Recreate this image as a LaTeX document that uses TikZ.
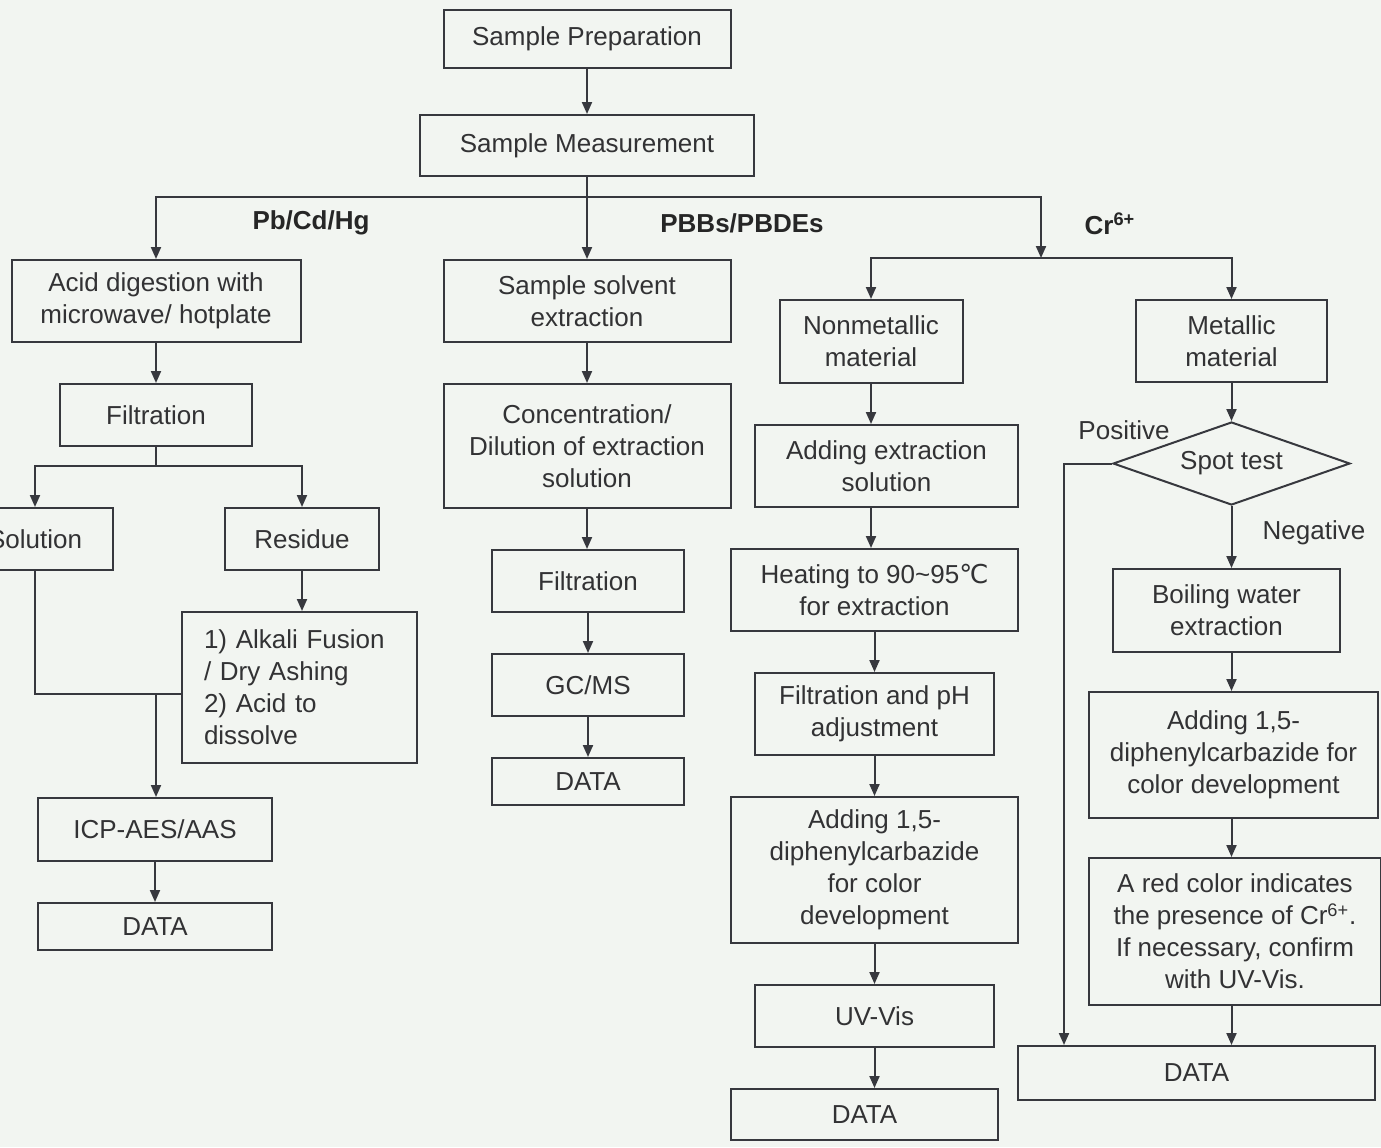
\documentclass[tikz,border=0pt]{standalone}
\usepackage{fontspec}
\setmainfont{Liberation Sans}
\newfontfamily\symfont{DejaVu Sans}
\usetikzlibrary{arrows.meta,shapes.geometric}

\definecolor{bgc}{RGB}{242,245,241}
\definecolor{linec}{RGB}{55,56,62}
\definecolor{textc}{RGB}{50,50,52}

\begin{document}
\begin{tikzpicture}[
x=0.5pt, y=-0.5pt,
font=\fontsize{13}{16}\selectfont,
>={Triangle[length=6pt,width=5pt]}
]

\tikzstyle{bx} = [draw=linec, line width=1pt, shape=rectangle, align=center, inner sep=0pt, text=textc]
\tikzstyle{dm} = [draw=linec, line width=1pt, shape=diamond, aspect=2.85, inner sep=0pt, text=textc]
\tikzstyle{lbl} = [text=textc, inner sep=0pt]
\tikzstyle{hd} = [text=black!85, inner sep=0pt, font=\fontsize{13}{16}\selectfont\bfseries]
\tikzstyle{ln} = [draw=linec, line width=1pt]

\fill[bgc] (0,0) rectangle (1381,1147);
\useasboundingbox (0,0) rectangle (1381,1147);

\node[bx, minimum width=143.5pt, minimum height=29pt] (prep) at (587,39) {Sample Preparation};
\node[bx, minimum width=167pt, minimum height=30.5pt] (meas) at (587,145.5) {Sample Measurement};

\node[hd] (pbh) at (311,223) {Pb/Cd/Hg};
\node[hd] (bfr) at (742,223) {PBBs/PBDEs};
\node[hd] (crh) at (1110,224) {Cr\textsuperscript{6+}};

\node[bx, minimum width=144.5pt, minimum height=41pt] (acid) at (156,301) {Acid digestion with\\microwave/ hotplate};
\node[bx, minimum width=96pt, minimum height=31pt] (filtL) at (156,415) {Filtration};
\node[bx, minimum width=78pt, minimum height=31pt] (sol) at (35,539) {Solution};
\node[bx, minimum width=77pt, minimum height=31pt] (res) at (302,539) {Residue};
\node[bx, minimum width=117.5pt, minimum height=75.5pt, text width=95pt, align=left] (alk) at (299,687.5) {1) Alkali Fusion\\/ Dry Ashing\\2) Acid to\\dissolve};
\node[bx, minimum width=117pt, minimum height=31.5pt] (icp) at (155,829.5) {ICP-AES/AAS};
\node[bx, minimum width=117pt, minimum height=23.5pt] (dataL) at (155,926.5) {DATA};

\node[bx, minimum width=143.5pt, minimum height=41pt] (solv) at (587,301) {Sample solvent\\extraction};
\node[bx, minimum width=143.5pt, minimum height=62pt] (conc) at (587,446) {Concentration/\\Dilution of extraction\\solution};
\node[bx, minimum width=96pt, minimum height=31pt] (filtM) at (588,581) {Filtration};
\node[bx, minimum width=96pt, minimum height=31pt] (gcms) at (588,685) {GC/MS};
\node[bx, minimum width=96pt, minimum height=23.5pt] (dataM) at (588,781.5) {DATA};

\node[bx, minimum width=91.5pt, minimum height=41.5pt] (nonm) at (871,341.5) {Nonmetallic\\material};
\node[bx, minimum width=131.5pt, minimum height=41pt] (addx) at (886.5,466) {Adding extraction\\solution};
\node[bx, minimum width=143.5pt, minimum height=41pt] (heat) at (874.5,590) {Heating to 90\textasciitilde95{\symfont ℃}\\for extraction};
\node[bx, minimum width=119.5pt, minimum height=41pt] (fph) at (874.5,714) {Filtration and pH\\adjustment};
\node[bx, minimum width=143.5pt, minimum height=73pt] (addn) at (874.5,870) {Adding 1,5-\\diphenylcarbazide\\for color\\development};
\node[bx, minimum width=119.5pt, minimum height=31pt] (uv) at (874.5,1016) {UV-Vis};
\node[bx, minimum width=133.5pt, minimum height=25.5pt] (dataN) at (864.5,1114.5) {DATA};

\node[bx, minimum width=95.5pt, minimum height=41pt] (metal) at (1231.5,341) {Metallic\\material};
\node[dm, minimum width=118.5pt, minimum height=41.5pt] (spot) at (1231.5,463.5) {Spot test};
\node[lbl] (posl) at (1124,430) {Positive};
\node[lbl] (negl) at (1314,533) {Negative};
\node[bx, minimum width=113.5pt, minimum height=41.5pt] (boil) at (1226.5,610.5) {Boiling water\\extraction};
\node[bx, minimum width=144.5pt, minimum height=63pt] (addm) at (1233.5,755) {Adding 1,5-\\diphenylcarbazide for\\color development};
\node[bx, minimum width=146pt, minimum height=73.5pt] (red) at (1235,931.5) {A red color indicates\\the presence of Cr\textsuperscript{6+}.\\If necessary, confirm\\with UV-Vis.};
\node[bx, minimum width=178.5pt, minimum height=27pt] (dataR) at (1196.5,1073) {DATA};

\coordinate (br) at (587,197);
\coordinate (crj) at (1041,258);
\coordinate (fj) at (156,466);
\coordinate (sj) at (156,694);
\coordinate (pos) at (1064,463.5);

\draw[ln,->] (prep) -- (meas);
\draw[ln,->] (meas.south) -- (br) -| (acid.north);
\draw[ln,->] (br) -- (solv.north);
\draw[ln,->] (br) -| (crj);

\draw[ln,->] (acid) -- (filtL);
\draw[ln] (filtL.south) -- (fj);
\draw[ln,->] (fj) -| (sol.north);
\draw[ln,->] (fj) -| (res.north);
\draw[ln,->] (res) -- (res.south |- alk.north);
\draw[ln] (sol.south) |- (alk.west |- sj);
\draw[ln,->] (sj) -- (sj |- icp.north);
\draw[ln,->] (icp) -- (dataL);

\draw[ln,->] (solv) -- (conc);
\draw[ln,->] (conc) -- (conc.south |- filtM.north);
\draw[ln,->] (filtM) -- (gcms);
\draw[ln,->] (gcms) -- (dataM);

\draw[ln,->] (crj) -| (nonm.north);
\draw[ln,->] (crj) -| (metal.north);
\draw[ln,->] (nonm) -- (nonm.south |- addx.north);
\draw[ln,->] (nonm.south |- addx.south) -- (nonm.south |- heat.north);
\draw[ln,->] (heat) -- (fph);
\draw[ln,->] (fph) -- (addn);
\draw[ln,->] (addn) -- (uv);
\draw[ln,->] (uv.south) -- (uv.south |- dataN.north);

\draw[ln,->] (metal) -- (spot);
\draw[ln,->] (spot.south) -- (spot.south |- boil.north);
\draw[ln,->] (spot.south |- boil.south) -- (spot.south |- addm.north);
\draw[ln,->] (spot.south |- addm.south) -- (spot.south |- red.north);
\draw[ln,->] (spot.south |- red.south) -- (spot.south |- dataR.north);
\draw[ln,->] (spot.west) -- (pos) -- (pos |- dataR.north);

\end{tikzpicture}
\end{document}
